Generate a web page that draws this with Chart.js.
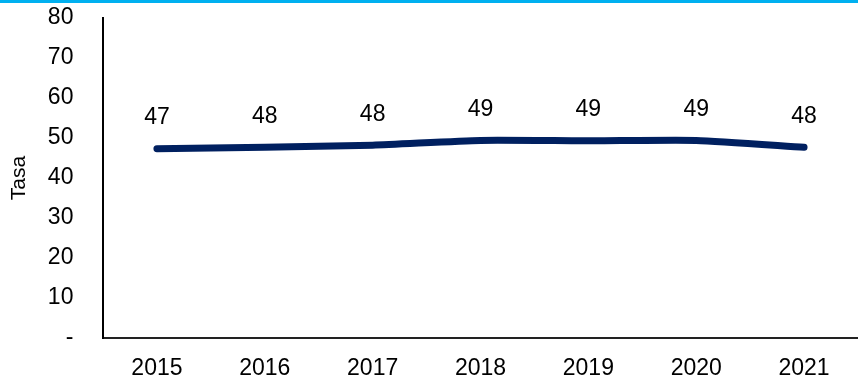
<!DOCTYPE html>
<html>
<head>
<meta charset="utf-8">
<script src="https://cdn.jsdelivr.net/npm/chart.js@4/dist/chart.umd.min.js"></script>
<style>
  body { margin:0; background:#fff; }
  #caja { position:relative; width:858px; height:383px; }
  #franja { position:absolute; left:0; top:0; width:858px; height:3px; background:#00b0f0; }
</style>
</head>
<body>
<div id="caja">
  <canvas id="grafica"></canvas>
  <div id="franja"></div>
</div>
<script>
const anios = ["2015", "2016", "2017", "2018", "2019", "2020", "2021"];
const tasa = [47.3, 47.7, 48.2, 49.4, 49.3, 49.4, 47.7];
const etiquetas = ["47", "48", "48", "49", "49", "49", "48"];

const fuente = '"Liberation Sans", Arial, sans-serif';

// etiquetas de datos encima de cada punto
const rotulos = {
    id: 'rotulos',
    afterDatasetsDraw(chart) {
        const ctx = chart.ctx;
        const meta = chart.getDatasetMeta(0);
        ctx.save();
        ctx.font = '23px ' + fuente;
        ctx.fillStyle = '#000';
        ctx.textAlign = 'center';
        ctx.textBaseline = 'middle';
        meta.data.forEach((p, i) => {
            ctx.fillText(etiquetas[i], p.x, p.y - 31);
        });
        ctx.restore();
    }
};

new Chart(document.getElementById("grafica"), {
    type: 'line',
    data: {
        labels: anios,
        datasets: [{
            data: tasa,
            borderColor: '#002060',
            borderWidth: 7,
            borderCapStyle: 'round',
            borderJoinStyle: 'round',
            pointRadius: 0,
            tension: 0.2,
            fill: false
        }]
    },
    options: {
        responsive: true,
        maintainAspectRatio: false,
        animation: false,
        layout: { padding: { top: 18, left: 0, right: 0, bottom: 0 } },
        plugins: { legend: { display: false }, tooltip: { enabled: false } },
        scales: {
            x: {
                offset: true,
                grid: { display: false, drawTicks: false },
                border: { display: true, color: '#222', width: 2 },
                ticks: { color: '#000', padding: 17, maxRotation: 0,
                         font: { family: fuente, size: 23 } },
                afterFit(s) { s.height = 45; }
            },
            y: {
                min: 0,
                max: 80,
                grid: { display: false, drawTicks: false },
                border: { display: true, color: '#000', width: 2 },
                ticks: {
                    stepSize: 10,
                    color: '#000',
                    padding: 4,
                    font: { family: fuente, size: 23 },
                    // espacios finales para separar las etiquetas del eje
                    callback: v => (v === 0 ? '-' : v) + '    '
                },
                title: {
                    display: true,
                    text: 'Tasa',
                    color: '#000',
                    padding: { top: 7, bottom: 0 },
                    font: { family: fuente, size: 21 }
                },
                afterFit(s) { s.width = 103; }
            }
        }
    },
    plugins: [rotulos]
});
</script>
</body>
</html>
